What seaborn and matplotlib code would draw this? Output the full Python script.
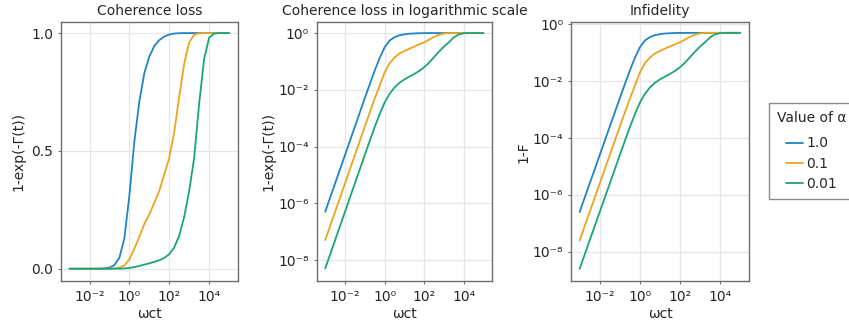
import numpy as np
import pandas as pd
import matplotlib
matplotlib.use("Agg")
import matplotlib.pyplot as plt
import seaborn as sns

# ---- data ----
log_wct = [-3.0, -2.75, -2.5, -2.25, -2.0, -1.75, -1.5, -1.25, -1.0, -0.75, -0.5, -0.25,
           0.0, 0.25, 0.5, 0.75, 1.0, 1.25, 1.5, 1.75, 2.0, 2.25, 2.5, 2.75,
           3.0, 3.25, 3.5, 3.75, 4.0, 4.25, 4.5, 4.75, 5.0]

alphas = ["1.0", "0.1", "0.01"]

loss_a1 = [5.0e-7, 1.58e-6, 5.0e-6, 1.58e-5, 5.0e-5, 1.58e-4, 5.0e-4, 1.58e-3, 5.0e-3, 1.55e-2, 4.7e-2, 0.13,
           0.31, 0.54, 0.71, 0.83, 0.90, 0.945, 0.970, 0.985, 0.994, 0.998, 0.9995, 1.0,
           1.0, 1.0, 1.0, 1.0, 1.0, 1.0, 1.0, 1.0, 1.0]
loss_a01 = [5.0e-8, 1.58e-7, 5.0e-7, 1.58e-6, 5.0e-6, 1.58e-5, 5.0e-5, 1.58e-4, 5.0e-4, 1.56e-3, 4.8e-3, 0.0137,
            0.040, 0.085, 0.135, 0.19, 0.23, 0.28, 0.33, 0.40, 0.47, 0.58, 0.73, 0.87,
            0.96, 0.993, 0.999, 1.0, 1.0, 1.0, 1.0, 1.0, 1.0]
loss_a001 = [5.0e-9, 1.58e-8, 5.0e-8, 1.58e-7, 5.0e-7, 1.58e-6, 5.0e-6, 1.58e-5, 5.0e-5, 1.56e-4, 4.8e-4, 1.37e-3,
             3.5e-3, 7.1e-3, 0.012, 0.0175, 0.023, 0.029, 0.036, 0.046, 0.062, 0.09, 0.14, 0.22,
             0.33, 0.47, 0.70, 0.89, 0.98, 0.998, 1.0, 1.0, 1.0]

infid_a1 = [2.5e-7, 7.9e-7, 2.5e-6, 7.9e-6, 2.5e-5, 7.9e-5, 2.5e-4, 7.9e-4, 2.5e-3, 7.75e-3, 2.35e-2, 0.065,
            0.155, 0.27, 0.355, 0.415, 0.45, 0.4725, 0.485, 0.4925, 0.497, 0.499, 0.49975, 0.5,
            0.5, 0.5, 0.5, 0.5, 0.5, 0.5, 0.5, 0.5, 0.5]
infid_a01 = [2.5e-8, 7.9e-8, 2.5e-7, 7.9e-7, 2.5e-6, 7.9e-6, 2.5e-5, 7.9e-5, 2.5e-4, 7.8e-4, 2.4e-3, 6.85e-3,
             0.020, 0.0425, 0.0675, 0.095, 0.115, 0.14, 0.165, 0.20, 0.235, 0.29, 0.365, 0.435,
             0.48, 0.4965, 0.4995, 0.5, 0.5, 0.5, 0.5, 0.5, 0.5]
infid_a001 = [2.5e-9, 7.9e-9, 2.5e-8, 7.9e-8, 2.5e-7, 7.9e-7, 2.5e-6, 7.9e-6, 2.5e-5, 7.8e-5, 2.4e-4, 6.85e-4,
              1.75e-3, 3.55e-3, 6.0e-3, 8.75e-3, 0.0115, 0.0145, 0.018, 0.023, 0.031, 0.045, 0.07, 0.11,
              0.165, 0.235, 0.35, 0.445, 0.49, 0.499, 0.5, 0.5, 0.5]

x_tick_labels = ["10⁻²", "10⁰", "10²", "10⁴"]
y_log_tick_labels = ["10⁰", "10⁻²", "10⁻⁴", "10⁻⁶", "10⁻⁸"]
y_lin_tick_labels = ["0.0", "0.5", "1.0"]

titles = ["Coherence loss", "Coherence loss in logarithmic scale", "Infidelity"]

# ---- build tables ----
wct = [10.0 ** v for v in log_wct]
loss_df = pd.DataFrame({
    "wct": wct * 3,
    "val": loss_a1 + loss_a01 + loss_a001,
    "alpha": [alphas[0]] * len(wct) + [alphas[1]] * len(wct) + [alphas[2]] * len(wct),
})
infid_df = pd.DataFrame({
    "wct": wct * 3,
    "val": infid_a1 + infid_a01 + infid_a001,
    "alpha": [alphas[0]] * len(wct) + [alphas[1]] * len(wct) + [alphas[2]] * len(wct),
})

sns.set_theme(style="white")
plt.rcParams["font.family"] = ["DejaVu Sans"]

palette = {"1.0": "#1f85c4", "0.1": "#eba521", "0.01": "#1aa57a"}
text_col = "#262626"
spine_col = "#6e6e6e"
grid_col = "#e6e6e6"

W, H = 849, 325
fig = plt.figure(figsize=(W / 100, H / 100), dpi=100)

boxes = [(61, 238, 22, 281), (316.7, 492.3, 21.7, 281), (571, 749.3, 22.3, 281)]
axes = []
for (l, r, t, b) in boxes:
    ax = fig.add_axes([l / W, (H - b) / H, (r - l) / W, (b - t) / H])
    axes.append(ax)

data_for = [loss_df, loss_df, infid_df]
for i, ax in enumerate(axes):
    sns.lineplot(data=data_for[i], x="wct", y="val", hue="alpha", hue_order=alphas,
                 palette=palette, ax=ax, linewidth=1.3, legend=False, estimator=None, sort=False)
    ax.set_xscale("log")
    ax.set_xlim(10 ** -3.43, 10 ** 5.45)
    ax.set_xticks([1e-2, 1e0, 1e2, 1e4])
    ax.set_xticklabels(x_tick_labels)
    ax.xaxis.set_minor_locator(matplotlib.ticker.NullLocator())
    ax.set_xlabel("ωct", fontsize=10, color=text_col, labelpad=2)
    ax.set_title(titles[i], fontsize=10, color=text_col, pad=5)
    ax.grid(True, color=grid_col, linewidth=0.9)
    ax.set_axisbelow(True)
    for s in ax.spines.values():
        s.set_visible(True)
        s.set_color(spine_col)
        s.set_linewidth(1.0)
    ax.tick_params(axis="both", which="major", length=2.5, width=0.8, color=spine_col,
                   labelsize=10, labelcolor=text_col, pad=3, direction="out",
                   bottom=True, left=True)
    ax.tick_params(axis="x", pad=4)

axes[0].set_ylim(-0.052, 1.047)
axes[0].set_yticks([0.0, 0.5, 1.0])
axes[0].set_yticklabels(y_lin_tick_labels)
axes[0].set_ylabel("1-exp(-Γ(t))", fontsize=10, color=text_col)

axes[1].set_yscale("log")
axes[1].set_ylim(10 ** -8.74, 10 ** 0.4)
axes[1].set_ylabel("1-exp(-Γ(t))", fontsize=10, color=text_col, labelpad=2)

axes[2].set_yscale("log")
axes[2].set_ylim(10 ** -9.03, 10 ** 0.07)
axes[2].set_ylabel("1-F", fontsize=10, color=text_col, labelpad=2)

for ax in axes[1:]:
    ax.set_yticks([1e0, 1e-2, 1e-4, 1e-6, 1e-8])
    ax.set_yticklabels(y_log_tick_labels)
    ax.yaxis.set_minor_locator(matplotlib.ticker.NullLocator())

handles = [matplotlib.lines.Line2D([], [], color=palette[a], linewidth=1.3) for a in alphas]
leg = fig.legend(handles, alphas, title="Value of α", loc="upper left",
                 bbox_to_anchor=(769 / W, 1 - 103 / H), borderaxespad=0.0,
                 frameon=True, fancybox=False,
                 fontsize=10, title_fontsize=10, handlelength=1.25, handletextpad=0.25,
                 labelspacing=0.45, borderpad=0.55, alignment="center")
try:
    leg._legend_box.sep = 8.5
except Exception:
    pass
leg.get_frame().set_edgecolor(spine_col)
leg.get_frame().set_linewidth(1.0)
leg.get_title().set_color(text_col)
for t in leg.get_texts():
    t.set_color(text_col)

fig.savefig("out.png", dpi=100)
